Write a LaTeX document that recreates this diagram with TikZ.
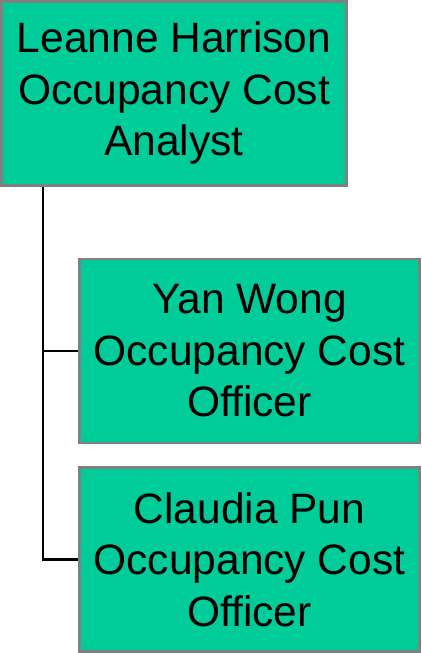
\documentclass[tikz,border=0pt]{standalone}
\usepackage{fontspec}
\setmainfont{Liberation Sans}
\usetikzlibrary{positioning}
\definecolor{boxgreen}{RGB}{0,204,153}
\definecolor{boxgray}{RGB}{128,128,128}

\tikzset{person/.style={rectangle, draw=boxgray, line width=2.5pt, fill=boxgreen,
  align=center, inner sep=0pt, minimum width=340pt, minimum height=184pt,
  font=\fontsize{42.5}{51.5}\selectfont}}

\begin{document}
\begin{tikzpicture}[x=1pt,y=-1pt]
\useasboundingbox (0,0) rectangle (421,653);

\node[person, minimum width=345pt] (leanne) at (174,93.5) {Leanne Harrison\\Occupancy Cost\\Analyst};
\node[person] (yan) at (249.5,350.75) {Yan Wong\\Occupancy Cost\\Officer};
\node[person] (claudia) at (249.5,559.5) {Claudia Pun\\Occupancy Cost\\Officer};

\draw[line width=2.5pt] (leanne.south west) ++(42.5,0) |- (yan.west);
\draw[line width=2.5pt] (leanne.south west) ++(42.5,0) |- (claudia.west);

\end{tikzpicture}
\end{document}
